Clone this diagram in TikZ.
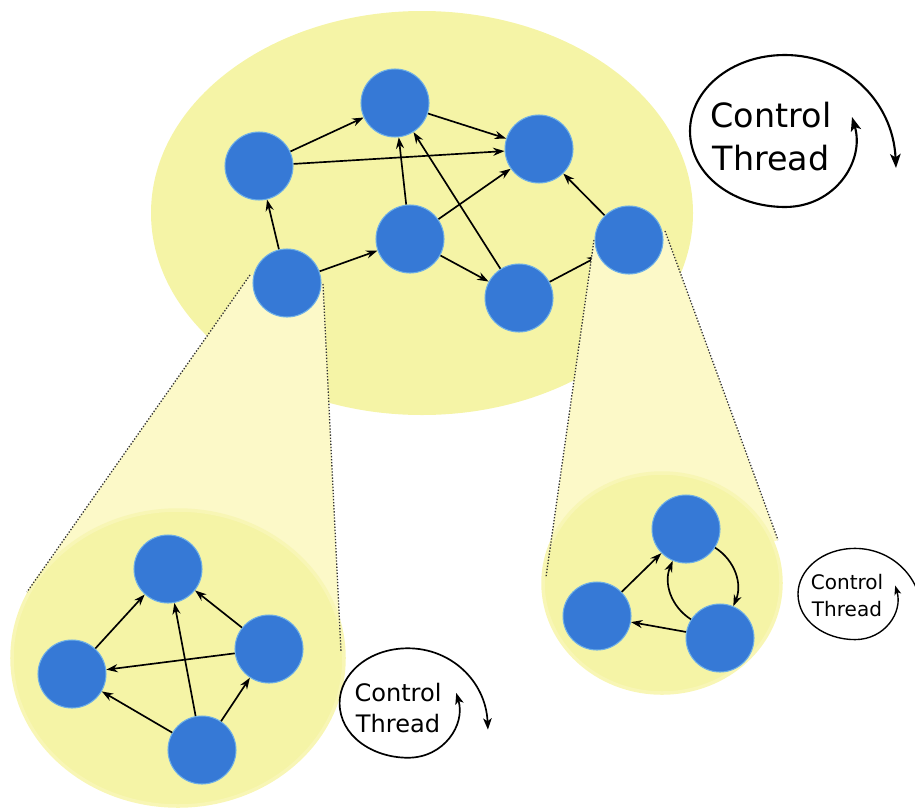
\documentclass[tikz,border=0pt]{standalone}
\usepackage{fontspec}
\newfontfamily\dejavu{DejaVu Sans}
\usetikzlibrary{arrows.meta}
\definecolor{ell}{RGB}{245,244,166}
\definecolor{cone}{RGB}{252,249,200}
\definecolor{nblue}{RGB}{54,121,214}
\definecolor{nedge}{RGB}{110,175,230}
\pgfdeclarelayer{l0}
\pgfdeclarelayer{l1}
\pgfdeclarelayer{l2}
\pgfsetlayers{l0,l1,l2,main}
\tikzset{
  gnode/.style={circle,fill=nblue,draw=nedge,line width=0.6pt,minimum size=1.36cm,inner sep=0pt},
  edge/.style={line width=0.95pt,-{Stealth[length=6.5pt,width=4.6pt]}},
  coneline/.style={densely dotted,line width=0.75pt,draw=black!80},
  ctl/.style={line width=#1*1.2pt,{Stealth[length=8pt,width=6pt,inset=2pt,scale=#1]}-{Stealth[length=8pt,width=6pt,inset=2pt,scale=#1]}},
  ctltext/.style={anchor=base,inner sep=0pt}
}
\begin{document}
\begin{tikzpicture}[x=0.02cm,y=-0.02cm]
\useasboundingbox (0,0) rectangle (915,808);

\begin{pgfonlayer}{l0}
  \fill[ell] (422,213) ellipse (271 and 202);
\end{pgfonlayer}

% top graph nodes
\node[gnode] (A) at (259,166) {};
\node[gnode] (B) at (395,103) {};
\node[gnode] (C) at (539,149) {};
\node[gnode] (D) at (287,283) {};
\node[gnode] (E) at (410,239) {};
\node[gnode] (F) at (519,298) {};
\node[gnode] (G) at (629,240) {};

% bottom-left graph nodes
\node[gnode] (P) at (168,569) {};
\node[gnode] (Q) at (72,674) {};
\node[gnode] (R) at (269,649) {};
\node[gnode] (S) at (202,750) {};

% bottom-right graph nodes
\node[gnode] (T) at (686,529) {};
\node[gnode] (U) at (597,616) {};
\node[gnode] (V) at (720,638) {};

\begin{pgfonlayer}{l1}
  \draw[edge] (D) -- (A);
  \draw[edge] (A) -- (B);
  \draw[edge] (A) -- (C);
  \draw[edge] (B) -- (C);
  \draw[edge] (E) -- (B);
  \draw[edge] (F) -- (B);
  \draw[edge] (E) -- (C);
  \draw[edge] (D) -- (E);
  \draw[edge] (E) -- (F);
  \draw[edge] (F) -- (G);
  \draw[edge] (G) -- (C);
\end{pgfonlayer}

\begin{pgfonlayer}{l2}
  % left cone
  \coordinate (cl1) at (250,275);
  \coordinate (cl2) at (27,592);
  \coordinate (cr1) at (323,284);
  \coordinate (cr2) at (341,652);
  \fill[cone] (cl1) -- (cl2) -- (178,658) -- (cr2) -- (cr1) -- cycle;
  \fill[ell, draw=ell!55!cone, line width=2pt] (178,658) ellipse (166 and 148);
  \draw[coneline] (cl1) -- (cl2);
  \draw[coneline] (cr1) -- (cr2);
  % right cone
  \coordinate (dl1) at (594,240);
  \coordinate (dl2) at (546,577);
  \coordinate (dr1) at (665,231);
  \coordinate (dr2) at (778,540);
  \fill[cone] (dl1) -- (dl2) -- (662,583) -- (dr2) -- (dr1) -- cycle;
  \fill[ell, draw=ell!55!cone, line width=2pt] (662,583) ellipse (119 and 110);
  \draw[coneline] (dl1) -- (dl2);
  \draw[coneline] (dr1) -- (dr2);
\end{pgfonlayer}

% bottom-left edges
\draw[edge] (Q) -- (P);
\draw[edge] (S) -- (P);
\draw[edge] (R) -- (P);
\draw[edge] (R) -- (Q);
\draw[edge] (S) -- (Q);
\draw[edge] (S) -- (R);

% bottom-right edges
\draw[edge] (U) -- (T);
\draw[edge] (V) -- (U);
\draw[edge] (T) to[bend left=40] (V);
\draw[edge] (V) to[bend left=40] (T);

% control threads
\begin{scope}[shift={(785,131)}]
  \draw[ctl=1] (111,37) .. controls (108,-30) and (60,-76) .. (0,-76)
     .. controls (-55,-76) and (-95,-40) .. (-95,0)
     .. controls (-95,45) and (-50,76) .. (0,76)
     .. controls (50,76) and (80,30) .. (67,-14);
\end{scope}
\node[ctltext,font=\dejavu\fontsize{19pt}{23pt}\selectfont] (ct1a) at (771,127) {Control};
\node[ctltext,font=\dejavu\fontsize{19pt}{23pt}\selectfont] (ct1b) at (771,170) {Thread};

\begin{scope}[shift={(408,703)},scale=0.72]
  \draw[ctl=0.8] (111,37) .. controls (108,-30) and (60,-76) .. (0,-76)
     .. controls (-55,-76) and (-95,-40) .. (-95,0)
     .. controls (-95,45) and (-50,76) .. (0,76)
     .. controls (50,76) and (80,30) .. (67,-14);
\end{scope}
\node[ctltext,font=\dejavu\fontsize{13.7pt}{16pt}\selectfont] (ct2a) at (398,701) {Control};
\node[ctltext,font=\dejavu\fontsize{13.7pt}{16pt}\selectfont] (ct2b) at (398,732) {Thread};

\begin{scope}[shift={(855,594)},scale=0.6]
  \draw[ctl=0.65] (111,37) .. controls (108,-30) and (60,-76) .. (0,-76)
     .. controls (-55,-76) and (-95,-40) .. (-95,0)
     .. controls (-95,45) and (-50,76) .. (0,76)
     .. controls (50,76) and (80,30) .. (67,-14);
\end{scope}
\node[ctltext,font=\dejavu\fontsize{11.4pt}{14pt}\selectfont] (ct3a) at (847,589) {Control};
\node[ctltext,font=\dejavu\fontsize{11.4pt}{14pt}\selectfont] (ct3b) at (847,616) {Thread};
\end{tikzpicture}
\end{document}
